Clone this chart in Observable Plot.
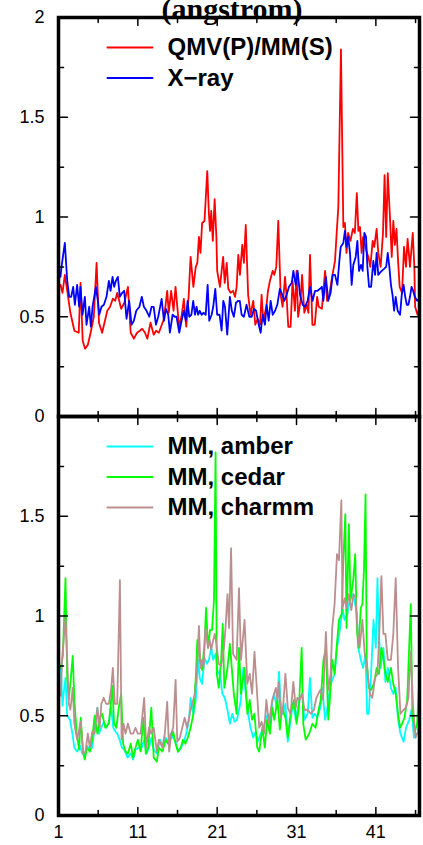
<!DOCTYPE html>
<html>
<head>
<meta charset="utf-8">
<script src="https://cdn.jsdelivr.net/npm/d3@7"></script>
<script src="https://cdn.jsdelivr.net/npm/@observablehq/plot@0.6"></script>
<style>
  html, body { margin: 0; padding: 0; background: #fff; }
  #chart svg { display: block; }
</style>
</head>
<body>
<div id="chart"></div>
<script>
// ---- data (residue, deviation in angstrom) ----
const qmv = [[1.25,0.66],[1.5,0.62],[1.8,0.71],[2.1,0.63],[2.5,0.52],[3.0,0.43],[3.55,0.42],[3.78,0.67],[4.05,0.38],[4.35,0.34],[4.7,0.36],[5.05,0.42],[5.45,0.5],[5.8,0.77],[6.1,0.47],[6.5,0.42],[7.15,0.53],[7.5,0.55],[7.85,0.59],[8.15,0.58],[8.4,0.62],[8.9,0.54],[9.3,0.57],[9.75,0.65],[10.1,0.42],[10.5,0.39],[10.9,0.42],[11.25,0.43],[11.55,0.44],[11.9,0.42],[12.2,0.39],[12.6,0.47],[13.0,0.41],[13.3,0.43],[13.65,0.42],[14.3,0.49],[14.7,0.63],[14.9,0.52],[15.2,0.63],[15.5,0.53],[15.75,0.65],[16.2,0.45],[16.5,0.5],[16.8,0.59],[17.1,0.45],[17.4,0.6],[17.65,0.8],[18.0,0.65],[18.3,0.75],[18.5,0.77],[18.7,0.9],[18.9,0.82],[19.1,0.97],[19.4,0.98],[19.75,1.23],[19.95,1.02],[20.1,0.93],[20.25,1.03],[20.45,0.88],[20.68,1.09],[20.9,0.9],[21.0,0.73],[21.35,0.65],[21.75,0.8],[21.95,0.67],[22.2,0.77],[22.4,0.64],[22.7,0.62],[23.0,0.63],[23.25,0.6],[23.45,0.65],[23.66,0.81],[23.87,0.71],[24.16,0.86],[24.37,0.77],[24.6,0.96],[24.9,0.61],[25.2,0.51],[25.55,0.58],[25.8,0.46],[26.1,0.49],[26.4,0.46],[26.6,0.61],[26.8,0.48],[27.2,0.55],[27.4,0.63],[27.65,0.68],[28.0,0.73],[28.2,0.71],[28.45,0.75],[28.7,0.98],[29.0,0.61],[29.25,0.55],[29.55,0.7],[29.75,0.6],[29.96,0.45],[30.25,0.45],[30.5,0.68],[30.8,0.53],[31.0,0.73],[31.2,0.5],[31.5,0.58],[31.7,0.71],[31.98,0.52],[32.3,0.56],[32.5,0.52],[32.7,0.81],[33.0,0.46],[33.3,0.46],[33.6,0.6],[33.8,0.55],[34.2,0.54],[34.6,0.73],[34.85,0.58],[35.1,0.6],[35.4,0.68],[35.85,0.78],[36.06,0.92],[36.27,1.05],[36.6,1.84],[36.9,0.95],[37.1,0.97],[37.3,0.82],[37.5,0.92],[37.8,0.88],[38.1,0.94],[38.35,0.92],[38.6,1.12],[38.8,0.93],[39.0,0.95],[39.2,0.82],[39.4,0.9],[39.8,0.83],[40.05,0.8],[40.3,0.75],[40.6,0.88],[40.8,0.85],[41.1,0.94],[41.3,0.82],[41.6,0.75],[41.9,0.92],[42.1,1.21],[42.3,0.9],[42.5,1.22],[42.8,0.98],[43.0,0.8],[43.2,0.98],[43.4,0.86],[43.6,0.94],[43.8,0.78],[44.0,0.65],[44.3,0.62],[44.55,0.85],[44.8,0.75],[45.0,0.89],[45.3,0.75],[45.65,0.92],[45.85,0.75],[45.95,0.55],[46.25,0.51],[46.5,0.55]];

const xray = [[1.25,0.7],[1.38,0.75],[1.8,0.87],[2.1,0.68],[2.35,0.6],[2.6,0.6],[2.85,0.65],[3.06,0.56],[3.35,0.66],[3.6,0.55],[3.77,0.65],[4.03,0.51],[4.32,0.6],[4.53,0.46],[4.87,0.55],[5.08,0.45],[5.29,0.55],[5.5,0.6],[5.71,0.65],[5.96,0.58],[6.13,0.51],[6.42,0.55],[6.72,0.56],[7.05,0.6],[7.35,0.68],[7.56,0.63],[7.81,0.7],[8.02,0.65],[8.23,0.68],[8.48,0.7],[8.73,0.6],[9.03,0.62],[9.28,0.63],[9.57,0.49],[9.91,0.58],[10.2,0.46],[10.5,0.48],[10.8,0.53],[11.2,0.55],[11.5,0.6],[11.76,0.55],[12.1,0.53],[12.44,0.5],[12.73,0.55],[13.0,0.55],[13.28,0.46],[13.57,0.5],[14.0,0.59],[14.29,0.48],[14.54,0.54],[14.83,0.51],[15.04,0.42],[15.38,0.51],[15.65,0.5],[15.88,0.5],[16.22,0.42],[16.51,0.48],[16.8,0.53],[17.05,0.48],[17.27,0.58],[17.48,0.5],[17.75,0.51],[17.98,0.58],[18.2,0.51],[18.4,0.55],[18.6,0.51],[18.8,0.53],[19.04,0.51],[19.3,0.52],[19.55,0.51],[19.8,0.66],[20.0,0.48],[20.3,0.51],[20.5,0.55],[20.76,0.64],[21.0,0.51],[21.3,0.51],[21.56,0.43],[21.77,0.58],[21.98,0.55],[22.27,0.41],[22.6,0.6],[22.85,0.53],[23.1,0.5],[23.37,0.57],[23.66,0.58],[23.85,0.58],[24.08,0.51],[24.37,0.5],[24.7,0.56],[25.05,0.5],[25.35,0.5],[25.64,0.54],[25.9,0.53],[26.18,0.47],[26.48,0.42],[26.73,0.51],[27.02,0.46],[27.23,0.56],[27.49,0.48],[27.74,0.58],[28.0,0.51],[28.3,0.53],[28.58,0.56],[28.9,0.64],[29.2,0.61],[29.46,0.58],[29.75,0.61],[30.05,0.65],[30.4,0.67],[30.6,0.73],[30.9,0.66],[31.14,0.73],[31.44,0.61],[31.77,0.56],[32.07,0.55],[32.4,0.58],[32.7,0.65],[33.03,0.58],[33.33,0.63],[33.65,0.63],[33.96,0.64],[34.2,0.65],[34.38,0.58],[34.7,0.7],[35.0,0.58],[35.3,0.62],[35.56,0.71],[35.85,0.71],[36.15,0.66],[36.4,0.78],[36.57,0.85],[36.9,0.87],[37.1,0.93],[37.3,0.85],[37.5,0.9],[37.74,0.82],[37.95,0.66],[38.16,0.76],[38.46,0.8],[38.67,0.88],[38.88,0.73],[39.13,0.76],[39.34,0.73],[39.55,0.92],[39.76,0.9],[39.93,0.75],[40.14,0.65],[40.4,0.65],[40.68,0.78],[40.9,0.71],[41.1,0.82],[41.3,0.71],[41.5,0.72],[41.74,0.73],[42.03,0.74],[42.3,0.75],[42.5,0.82],[42.7,0.75],[42.9,0.66],[43.1,0.61],[43.3,0.53],[43.5,0.6],[43.75,0.53],[44.05,0.51],[44.26,0.61],[44.5,0.66],[44.7,0.6],[44.9,0.56],[45.1,0.56],[45.3,0.6],[45.5,0.65],[45.7,0.63],[45.9,0.6],[46.2,0.58],[46.5,0.59]];

const amber = [[1.3,0.74],[1.5,0.55],[1.7,0.63],[1.88,0.69],[2.1,0.5],[2.45,0.48],[2.75,0.41],[3.0,0.34],[3.35,0.32],[3.7,0.35],[4.0,0.31],[4.3,0.3],[4.6,0.35],[4.95,0.33],[5.25,0.34],[5.55,0.44],[5.9,0.54],[6.1,0.41],[6.4,0.44],[6.7,0.47],[7.05,0.44],[7.35,0.47],[7.65,0.54],[7.9,0.44],[8.2,0.42],[8.4,0.41],[8.7,0.38],[9.0,0.34],[9.3,0.33],[9.7,0.29],[10.1,0.31],[10.4,0.28],[10.7,0.33],[11.1,0.34],[11.4,0.33],[11.8,0.38],[12.1,0.31],[12.4,0.34],[12.7,0.39],[13.0,0.33],[13.4,0.31],[13.8,0.38],[14.1,0.35],[14.5,0.39],[14.8,0.37],[15.1,0.41],[15.45,0.39],[15.75,0.37],[16.1,0.32],[16.45,0.34],[16.8,0.37],[17.1,0.41],[17.45,0.48],[17.65,0.59],[18.0,0.51],[18.3,0.58],[18.6,0.78],[18.8,0.69],[19.1,0.66],[19.4,0.79],[19.7,0.76],[19.95,0.78],[20.25,0.84],[20.5,0.78],[20.8,0.81],[21.1,0.71],[21.35,0.72],[21.65,0.61],[21.95,0.59],[22.3,0.53],[22.6,0.46],[22.9,0.51],[23.2,0.47],[23.5,0.48],[23.95,0.57],[24.3,0.74],[24.6,0.61],[24.9,0.51],[25.2,0.44],[25.55,0.39],[25.85,0.42],[26.1,0.37],[26.5,0.41],[26.8,0.44],[27.1,0.48],[27.4,0.51],[27.65,0.44],[27.95,0.57],[28.2,0.61],[28.5,0.54],[28.8,0.72],[29.0,0.57],[29.3,0.51],[29.6,0.56],[29.9,0.37],[30.25,0.48],[30.6,0.57],[30.9,0.48],[31.3,0.57],[31.7,0.61],[32.0,0.48],[32.4,0.51],[32.7,0.69],[33.0,0.49],[33.3,0.51],[33.6,0.49],[34.0,0.54],[34.25,0.64],[34.6,0.48],[34.9,0.54],[35.2,0.64],[35.5,0.68],[35.8,0.71],[36.1,0.84],[36.5,0.94],[36.8,1.04],[37.05,0.98],[37.4,1.01],[37.7,1.08],[38.0,1.11],[38.3,1.08],[38.6,1.01],[38.8,0.84],[39.1,0.78],[39.4,0.74],[39.7,0.81],[39.9,0.51],[40.1,0.51],[40.4,0.71],[40.7,0.98],[41.0,0.84],[41.2,1.19],[41.4,0.91],[41.6,0.74],[41.95,0.84],[42.2,0.67],[42.5,0.74],[42.9,0.64],[43.2,0.61],[43.5,0.64],[43.8,0.48],[44.1,0.41],[44.5,0.37],[44.8,0.44],[45.2,0.48],[45.5,0.53],[45.8,0.39],[46.1,0.41],[46.4,0.41]];

const cedar = [[1.3,0.74],[1.55,0.8],[1.88,1.19],[2.1,0.69],[2.3,0.58],[2.6,0.71],[2.8,0.8],[3.0,0.58],[3.3,0.41],[3.6,0.33],[3.8,0.49],[4.1,0.32],[4.3,0.28],[4.6,0.34],[4.95,0.32],[5.25,0.38],[5.55,0.5],[5.9,0.41],[6.2,0.49],[6.5,0.51],[6.9,0.44],[7.35,0.46],[7.8,0.65],[8.0,0.46],[8.3,0.44],[8.6,0.54],[8.9,0.61],[9.15,0.36],[9.45,0.32],[9.75,0.31],[10.1,0.36],[10.4,0.29],[10.7,0.34],[11.0,0.38],[11.35,0.32],[11.7,0.49],[12.0,0.31],[12.3,0.34],[12.7,0.54],[13.0,0.29],[13.4,0.27],[13.65,0.34],[14.1,0.32],[14.5,0.38],[14.8,0.36],[15.1,0.38],[15.45,0.42],[15.76,0.36],[16.05,0.32],[16.4,0.34],[16.7,0.38],[17.0,0.36],[17.3,0.39],[17.65,0.44],[18.0,0.51],[18.3,0.69],[18.5,0.88],[18.8,0.78],[19.1,0.73],[19.4,0.86],[19.6,1.04],[19.85,0.84],[20.1,0.93],[20.35,0.93],[20.6,1.08],[20.8,1.82],[20.95,0.71],[21.2,0.64],[21.5,0.78],[21.7,0.96],[21.9,0.64],[22.3,0.74],[22.6,0.86],[22.9,0.71],[23.1,0.61],[23.45,0.51],[23.75,0.84],[24.0,0.61],[24.45,0.74],[24.8,0.51],[25.1,0.58],[25.4,0.48],[25.7,0.51],[26.05,0.34],[26.3,0.32],[26.7,0.44],[27.0,0.34],[27.3,0.48],[27.65,0.41],[27.95,0.54],[28.2,0.48],[28.6,0.58],[28.9,0.43],[29.2,0.54],[29.6,0.49],[29.9,0.39],[30.25,0.51],[30.7,0.58],[31.0,0.46],[31.3,0.54],[31.65,0.84],[31.85,0.46],[32.15,0.38],[32.6,0.41],[33.0,0.46],[33.4,0.44],[33.7,0.51],[34.05,0.58],[34.4,0.78],[34.7,0.84],[35.0,0.48],[35.2,0.58],[35.5,0.78],[35.8,0.71],[36.05,0.84],[36.35,0.98],[36.7,1.01],[36.9,1.28],[37.15,1.51],[37.3,0.94],[37.6,1.46],[37.8,1.08],[38.15,1.18],[38.4,1.31],[38.6,0.94],[38.8,0.84],[39.1,1.04],[39.3,1.06],[39.5,1.23],[39.7,1.61],[39.85,0.78],[40.1,0.64],[40.4,0.63],[40.75,0.66],[41.1,0.74],[41.4,0.71],[41.7,0.84],[41.95,0.79],[42.2,0.71],[42.5,0.67],[42.9,0.74],[43.2,0.66],[43.5,0.61],[43.8,0.51],[44.05,0.44],[44.3,0.46],[44.6,0.49],[44.95,0.58],[45.4,1.06],[45.6,0.51],[45.9,0.42],[46.2,0.46],[46.5,0.7]];

const charmm = [[1.3,0.6],[1.46,0.79],[1.88,0.99],[2.1,0.78],[2.3,0.56],[2.5,0.53],[2.8,0.64],[3.0,0.46],[3.35,0.38],[3.8,0.47],[4.1,0.31],[4.4,0.32],[4.7,0.41],[4.95,0.34],[5.25,0.42],[5.55,0.41],[5.9,0.54],[6.2,0.44],[6.4,0.56],[6.7,0.59],[7.0,0.56],[7.35,0.56],[7.65,0.64],[7.85,0.74],[8.1,0.56],[8.4,0.56],[8.74,1.18],[8.95,0.38],[9.2,0.46],[9.45,0.41],[9.75,0.46],[10.1,0.41],[10.4,0.41],[10.7,0.44],[11.0,0.41],[11.35,0.41],[11.8,0.59],[12.05,0.34],[12.4,0.44],[12.7,0.41],[13.0,0.44],[13.4,0.32],[13.65,0.38],[14.1,0.34],[14.4,0.41],[14.7,0.57],[14.95,0.32],[15.2,0.41],[15.45,0.44],[15.76,0.68],[15.97,0.37],[16.3,0.39],[16.6,0.44],[16.9,0.49],[17.2,0.44],[17.55,0.51],[17.85,0.56],[18.2,0.61],[18.5,0.76],[18.7,0.95],[18.9,0.74],[19.1,0.78],[19.3,0.74],[19.5,0.94],[19.85,0.84],[20.05,0.88],[20.25,0.83],[20.5,0.88],[20.7,0.91],[20.9,0.86],[21.2,0.76],[21.5,0.75],[21.85,0.84],[22.05,0.94],[22.3,1.11],[22.5,0.94],[22.75,1.34],[23.0,0.81],[23.45,0.78],[23.75,1.14],[24.0,0.78],[24.45,0.98],[24.8,0.66],[25.1,0.71],[25.4,0.61],[25.7,0.82],[26.0,0.63],[26.3,0.44],[26.6,0.47],[26.9,0.41],[27.2,0.58],[27.5,0.46],[27.95,0.58],[28.4,0.64],[28.6,0.58],[28.8,0.67],[29.0,0.49],[29.3,0.54],[29.6,0.71],[29.9,0.54],[30.25,0.51],[30.6,0.67],[30.9,0.54],[31.1,0.59],[31.4,0.58],[31.7,0.61],[32.0,0.53],[32.4,0.53],[32.8,0.51],[33.2,0.53],[33.5,0.59],[33.75,0.61],[34.0,0.63],[34.35,0.58],[34.7,0.92],[35.0,0.63],[35.3,0.71],[35.5,0.94],[35.8,1.06],[36.1,1.31],[36.35,1.28],[36.65,1.58],[36.8,1.04],[37.1,1.09],[37.3,1.04],[37.6,1.11],[37.9,1.03],[38.2,1.11],[38.45,1.09],[38.7,0.91],[38.95,0.84],[39.3,0.98],[39.6,0.81],[39.9,0.74],[40.25,0.61],[40.55,0.59],[40.9,0.69],[41.2,0.71],[41.4,0.88],[41.7,1.2],[41.95,0.91],[42.2,0.91],[42.5,0.78],[42.9,0.78],[43.2,0.91],[43.5,1.19],[43.8,0.74],[44.1,0.51],[44.5,0.53],[44.8,0.54],[45.1,0.59],[45.4,0.82],[45.7,0.54],[46.0,0.39],[46.3,0.42],[46.5,0.5]];

const panels = ["top", "bottom"];
const topNames = ["QMV(P)/MM(S)", "X\u2212ray"];
const bottomNames = ["MM, amber", "MM, cedar", "MM, charmm"];
const xDomain = [1, 46.5];
const yDomain = [0, 2];
const yMajor = [0, 0.5, 1, 1.5, 2];
const yMinor = [0.25, 0.75, 1.25, 1.75];
const xMajor = [1, 11, 21, 31, 41];
const xMinor = [6, 16, 26, 36, 46];
const titleText = "(angstrom)";

// ---- styling ----
const seriesColors = ["#ff0000", "#0000ff", "#00ffff", "#00ff00", "#bc8f8f"];
const allNames = [...topNames, ...bottomNames];

const groups = [
  {panel: "top", names: topNames, values: [qmv, xray]},
  {panel: "bottom", names: bottomNames, values: [amber, cedar, charmm]}
];

const rows = [];
for (const g of groups) {
  g.values.forEach((arr, i) => {
    for (const [x, y] of arr) rows.push({panel: g.panel, series: g.names[i], x, y});
  });
}

const lineShape = {draw(context, l) { context.moveTo(0, 0); context.lineTo(0, -l); }};

const legendMarks = [];
for (const g of groups) {
  g.names.forEach((name, i) => {
    const dy = 30 + i * 30.5;
    legendMarks.push(Plot.vector([name], {
      fy: () => g.panel, frameAnchor: "top-left", dx: 49, dy,
      length: 45, rotate: 90, anchor: "start", shape: lineShape,
      stroke: seriesColors[allNames.indexOf(name)], strokeWidth: 2
    }));
    legendMarks.push(Plot.text([name], {
      fy: () => g.panel, frameAnchor: "top-left", dx: 109, dy,
      text: d => d, textAnchor: "start", lineAnchor: "middle",
      fontSize: 24, fontWeight: "bold", fill: "black"
    }));
  });
}

// inward tick marks on all four sides of each panel
function ticks(values, axis, side, len) {
  const common = {length: len, anchor: "start", shape: lineShape, stroke: "black", strokeWidth: 1.5};
  if (axis === "y") {
    const x = side === "left" ? xDomain[0] : xDomain[1];
    return Plot.vector(values, {...common, x: () => x, y: d => d, rotate: side === "left" ? 90 : -90});
  } else {
    const y = side === "bottom" ? yDomain[0] : yDomain[1];
    return Plot.vector(values, {...common, x: d => d, y: () => y, rotate: side === "bottom" ? 0 : 180});
  }
}

const fmt = d => String(d);

const chart = Plot.plot({
  width: 423,
  height: 845,
  marginLeft: 58,
  marginRight: 4,
  marginTop: 17,
  marginBottom: 30,
  style: {fontFamily: "'Liberation Sans', Arial, Helvetica, sans-serif", background: "#fff", color: "#000"},
  x: {domain: xDomain},
  y: {domain: yDomain},
  fy: {domain: panels, axis: null, padding: 0},
  color: {domain: allNames, range: seriesColors},
  marks: [
    Plot.line(rows, {x: "x", y: "y", z: "series", stroke: "series", fy: "panel", strokeWidth: 1.8, strokeLinejoin: "round"}),
    ...legendMarks,
    ticks(yMajor, "y", "left", 9),
    ticks(yMinor, "y", "left", 5),
    ticks(yMajor, "y", "right", 9),
    ticks(yMinor, "y", "right", 5),
    ticks(xMajor, "x", "bottom", 8),
    ticks(xMinor, "x", "bottom", 5),
    ticks(xMajor, "x", "top", 8),
    ticks(xMinor, "x", "top", 5),
    // labels
    Plot.axisY(yMajor, {anchor: "left", tickSize: 0, tickPadding: 14, fontSize: 18, tickFormat: fmt, label: null, facetAnchor: "top"}),
    Plot.axisY(yMajor.slice(0, 4), {anchor: "left", tickSize: 0, tickPadding: 14, fontSize: 18, tickFormat: fmt, label: null, facetAnchor: "bottom"}),
    Plot.axisX(xMajor, {anchor: "bottom", tickSize: 0, tickPadding: 10, fontSize: 18, tickFormat: fmt, label: null, facetAnchor: "bottom"}),
    Plot.frame({stroke: "black", strokeWidth: 3.5}),
    Plot.text([titleText], {
      fy: () => "top", frameAnchor: "top", dx: -7, dy: -20, text: d => d,
      fontSize: 30, fontWeight: "bold", fontFamily: "'Liberation Serif', 'Times New Roman', serif", fill: "black"
    })
  ]
});

document.getElementById("chart").appendChild(chart);
</script>
</body>
</html>
